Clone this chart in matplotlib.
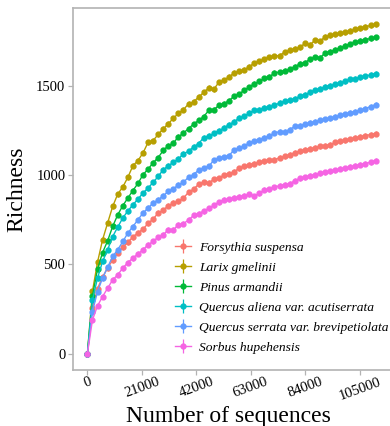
import numpy as np
import matplotlib
matplotlib.use("Agg")
import matplotlib.pyplot as plt

# sampling depth of the rarefaction curves
depth = np.arange(0, 111151, 1950)

forsythia = [0, 255, 365, 430, 480, 525, 565, 597, 625, 654, 678, 699, 730, 755, 789, 805, 830, 845, 854, 873,
             905, 923, 950, 962, 958, 978, 985, 1002, 1010, 1020, 1040, 1050, 1059, 1066, 1073, 1079, 1084, 1088,
             1098, 1106, 1115, 1128, 1135, 1144, 1148, 1154, 1163, 1167, 1172, 1185, 1191, 1197, 1204, 1210, 1216,
             1223, 1229, 1234]
larix = [0, 350, 513, 639, 733, 826, 895, 935, 989, 1054, 1083, 1126, 1185, 1195, 1230, 1261, 1290, 1320, 1348,
         1369, 1401, 1412, 1440, 1465, 1491, 1483, 1522, 1535, 1552, 1575, 1583, 1592, 1610, 1630, 1639, 1652, 1664,
         1669, 1672, 1692, 1701, 1709, 1718, 1740, 1733, 1757, 1753, 1777, 1785, 1791, 1796, 1803, 1811, 1819, 1826,
         1834, 1841, 1847]
pinus = [0, 325, 474, 567, 633, 714, 779, 830, 873, 915, 955, 1004, 1035, 1071, 1100, 1140, 1167, 1182, 1216, 1238,
         1262, 1288, 1308, 1330, 1364, 1369, 1392, 1402, 1420, 1443, 1455, 1478, 1495, 1515, 1527, 1545, 1553, 1575,
         1579, 1588, 1594, 1610, 1625, 1632, 1652, 1664, 1660, 1686, 1694, 1705, 1715, 1728, 1737, 1746, 1755, 1762,
         1768, 1775]
q_aliena = [0, 301, 424, 517, 583, 657, 710, 761, 800, 835, 867, 901, 929, 961, 994, 1032, 1054, 1073, 1092, 1122,
            1135, 1160, 1178, 1212, 1222, 1235, 1250, 1266, 1285, 1300, 1322, 1331, 1350, 1364, 1369, 1379, 1384,
            1392, 1407, 1416, 1421, 1429, 1444, 1453, 1466, 1478, 1485, 1497, 1504, 1510, 1519, 1528, 1538, 1542,
            1551, 1556, 1564, 1571]
q_serrata = [0, 236, 348, 424, 485, 545, 583, 629, 676, 713, 751, 789, 817, 845, 863, 886, 910, 923, 948, 961, 990,
             1004, 1030, 1041, 1051, 1085, 1097, 1103, 1111, 1142, 1154, 1163, 1184, 1191, 1201, 1210, 1223, 1238,
             1245, 1245, 1257, 1275, 1279, 1287, 1294, 1300, 1309, 1314, 1320, 1328, 1336, 1344, 1351, 1358, 1366,
             1375, 1386, 1397]
sorbus = [0, 189, 268, 320, 367, 414, 442, 480, 511, 536, 560, 583, 611, 629, 654, 667, 695, 695, 723, 729, 750,
          775, 786, 800, 815, 833, 850, 863, 866, 874, 880, 886, 893, 884, 900, 918, 923, 934, 942, 948, 953, 970,
          984, 990, 998, 1004, 1012, 1017, 1022, 1028, 1036, 1041, 1047, 1054, 1060, 1066, 1074, 1083]

labels = ["Forsythia suspensa", "Larix gmelinii", "Pinus armandii",
          "Quercus aliena var. acutiserrata", "Quercus serrata var. brevipetiolata",
          "Sorbus hupehensis"]
colors = ["#F8766D", "#B79F00", "#00BA38", "#00BFC4", "#619CFF", "#F564E3"]
series = [forsythia, larix, pinus, q_aliena, q_serrata, sorbus]
xticks = [0, 21000, 42000, 63000, 84000, 105000]
yticks = [0, 500, 1000, 1500]

plt.rcParams['font.family'] = ['Liberation Serif', 'DejaVu Serif']

fig = plt.figure(figsize=(3.9, 4.26), dpi=100)
ax = fig.add_axes([73 / 390, 1 - 370 / 426, 1 - 73 / 390, (370 - 8) / 426])

for vals, col, lab in zip(series, colors, labels):
    ax.errorbar(depth, vals, yerr=14, color=col, lw=1.0, marker='o', ms=3.5,
                elinewidth=0.9, capsize=0, label=lab)

ax.set_xlim(-5558, 116708)
ax.set_ylim(-92, 1939)
ax.set_xticks(xticks)
ax.set_xticklabels([str(t) for t in xticks], rotation=20, ha='center')
ax.set_yticks(yticks)

for side in ['left', 'top', 'bottom']:
    ax.spines[side].set_color('#b3b3b3')
    ax.spines[side].set_linewidth(1.2)
ax.spines['right'].set_visible(False)
ax.tick_params(axis='both', colors='#b3b3b3', length=3.5, width=0.9, labelsize=10.5,
               labelcolor='black', pad=2)
ax.tick_params(axis='x', pad=0.5)

ax.set_xlabel('Number of sequences', fontsize=17)
ax.xaxis.set_label_coords(0.49, -0.099)
ax.set_ylabel('Richness', fontsize=17, labelpad=6)

leg = ax.legend(loc='center left', bbox_to_anchor=(175 / 390, 1 - 297.5 / 426),
                bbox_transform=fig.transFigure, frameon=False, borderpad=0,
                borderaxespad=0, handlelength=1.2, handletextpad=0.6,
                labelspacing=0.56, prop={'style': 'italic', 'size': 9.7})

fig.savefig('out.png', dpi=100)
